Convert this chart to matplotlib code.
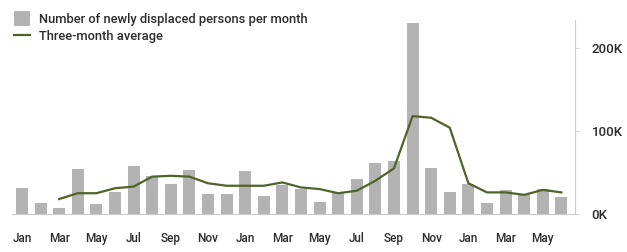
import numpy as np
import matplotlib.pyplot as plt
from matplotlib.ticker import FuncFormatter

# monthly values, Jan (year 1) .. Jun (year 3)
months = ['Jan', 'Feb', 'Mar', 'Apr', 'May', 'Jun', 'Jul', 'Aug', 'Sep', 'Oct', 'Nov', 'Dec'] * 2 + \
         ['Jan', 'Feb', 'Mar', 'Apr', 'May', 'Jun']
displaced = [31, 13, 7, 54, 12, 26, 58, 46, 36, 53, 24, 24,
             52, 22, 35, 30, 14, 25, 42, 61, 64, 230, 55, 27,
             36, 13, 29, 24, 30, 21]
avg3 = [np.nan, np.nan, 18, 25, 25, 31, 33, 45, 46, 45, 37, 34,
        34, 34, 38, 32, 30, 25, 28, 40, 55, 118, 116, 104,
        37, 26, 26, 23, 29, 26]

displaced = np.array(displaced) * 1000
avg3 = np.array(avg3) * 1000
x = np.arange(len(months))

plt.rcParams['font.family'] = ['Roboto', 'DejaVu Sans']
txt = '#2b2b2b'

fig = plt.figure(figsize=(6.27, 2.52), dpi=100)
ax = fig.add_axes([0.019, 0.151, 0.898, 0.77])

bars = ax.bar(x, displaced, width=0.65, color='#b3b3b3', label='Number of newly displaced persons per month', zorder=2)
line, = ax.plot(x, avg3, color='#4e6428', lw=1.6, label='Three-month average', zorder=3)

ax.set_xlim(-0.54, 29.73)
ax.set_ylim(0, 234000)

ax.yaxis.tick_right()
ax.set_yticks([0, 100000, 200000])
ax.yaxis.set_major_formatter(FuncFormatter(lambda v, p: f'{int(v/1000)}K'))
ax.set_xticks(x[::2])
ax.set_xticklabels(months[::2])
ax.tick_params(axis='x', length=0, pad=13, labelsize=8.5, labelcolor=txt)
ax.tick_params(axis='y', length=3, width=0.6, color='#cccccc', pad=9, labelsize=9.5, labelcolor=txt)
for t in ax.get_xticklabels() + ax.get_yticklabels():
    t.set_fontweight('medium')

for s in ['top', 'left']:
    ax.spines[s].set_visible(False)
ax.spines['right'].set_color('#cccccc')
ax.spines['right'].set_linewidth(0.8)
ax.spines['bottom'].set_color('#cccccc')
ax.spines['bottom'].set_linewidth(0.8)

leg = ax.legend(handles=[bars, line], loc='upper left', bbox_to_anchor=(-0.005, 1.07), frameon=False,
                handlelength=1.2, handleheight=1.3, handletextpad=0.7, labelspacing=0.25, borderaxespad=0,
                prop={'weight': 'medium', 'size': 9.3})
for t in leg.get_texts():
    t.set_color(txt)

fig.savefig('out.png', dpi=100)
